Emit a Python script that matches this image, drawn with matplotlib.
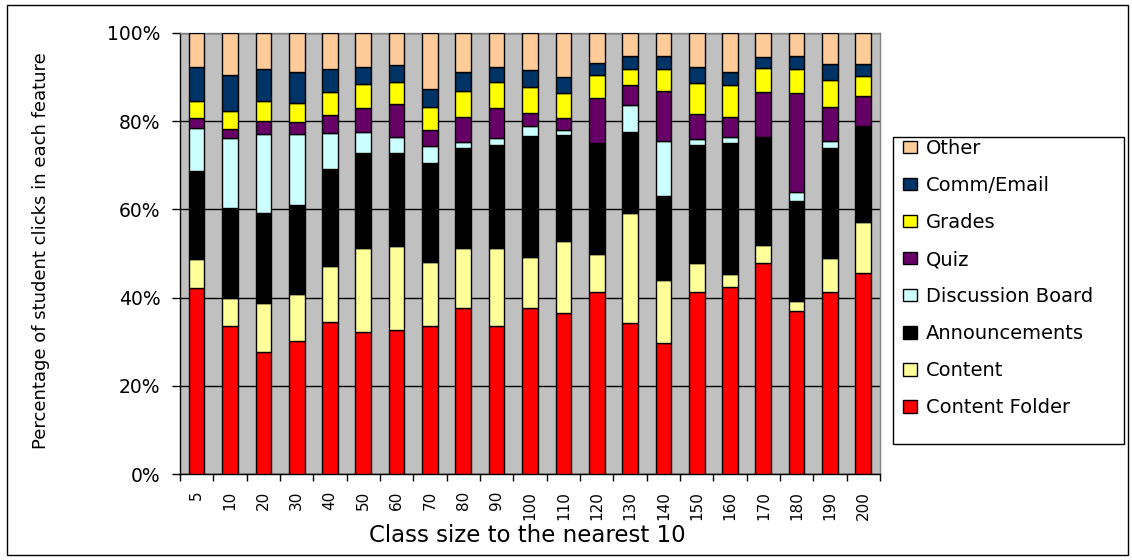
import matplotlib
matplotlib.use("Agg")
import matplotlib.pyplot as plt
import numpy as np
from matplotlib.ticker import PercentFormatter, FixedLocator, NullFormatter
from matplotlib.patches import Rectangle

plt.rcParams['font.family'] = ['DejaVu Sans']

class_sizes = ["5", "10", "20", "30", "40", "50", "60", "70", "80", "90", "100",
               "110", "120", "130", "140", "150", "160", "170", "180", "190", "200"]

content_folder = [42.2, 33.5, 27.7, 30.2, 34.5, 32.3, 32.7, 33.5, 37.6, 33.5, 37.6,
                  36.6, 41.3, 34.2, 29.8, 41.3, 42.5, 47.9, 37.0, 41.3, 45.5]
content = [6.5, 6.4, 11.1, 10.7, 12.7, 18.9, 18.9, 14.6, 13.7, 17.8, 11.7,
           16.2, 8.5, 25.0, 14.3, 6.5, 2.9, 4.0, 2.3, 7.7, 11.6]
announcements = [20.1, 20.5, 20.3, 20.0, 21.9, 21.7, 21.3, 22.5, 22.6, 23.2, 27.3,
                 24.1, 25.0, 18.3, 18.9, 26.7, 29.7, 24.6, 22.6, 24.9, 21.9]
discussion_board = [9.7, 15.7, 17.9, 16.1, 8.3, 4.7, 3.5, 3.7, 1.3, 1.6, 2.2,
                    1.0, 0.2, 6.2, 12.5, 1.4, 1.4, 0.0, 2.0, 1.6, 0.0]
quiz = [2.2, 2.1, 3.0, 2.9, 3.9, 5.5, 7.6, 3.6, 5.8, 7.0, 3.1,
        2.8, 10.2, 4.5, 11.4, 5.7, 4.5, 10.2, 22.4, 7.8, 6.8]
grades = [3.9, 4.0, 4.5, 4.3, 5.4, 5.3, 5.0, 5.4, 5.9, 5.9, 5.9,
          5.6, 5.3, 3.7, 4.9, 7.1, 7.2, 5.3, 5.5, 6.0, 4.4]
comm_email = [7.8, 8.3, 7.3, 7.0, 5.1, 4.0, 3.7, 4.0, 4.3, 3.4, 3.7,
              3.7, 2.8, 2.9, 3.0, 3.7, 3.0, 2.5, 3.0, 3.7, 2.8]
other = [7.6, 9.5, 8.2, 8.8, 8.2, 7.6, 7.3, 12.7, 8.8, 7.6, 8.5,
         10.0, 6.7, 5.2, 5.2, 7.6, 8.8, 5.5, 5.2, 7.0, 7.0]

series_names = ["Content Folder", "Content", "Announcements", "Discussion Board",
                "Quiz", "Grades", "Comm/Email", "Other"]
series_values = [content_folder, content, announcements, discussion_board,
                 quiz, grades, comm_email, other]
series_colors = ["#FF0000", "#FFFF99", "#000000", "#CCFFFF",
                 "#660066", "#FFFF00", "#003366", "#FFCC99"]

W, H = 1132, 560
fig = plt.figure(figsize=(W / 100, H / 100), dpi=100)
fig.patch.set_facecolor("white")

# outer chart border
fig.patches.append(Rectangle((7 / W, 5 / H), (1128 - 7) / W, (555 - 5) / H,
                             transform=fig.transFigure, fill=False,
                             edgecolor="black", linewidth=1.0))

ax = fig.add_axes([180 / W, (H - 474) / H, (880 - 180) / W, (474 - 33) / H])
ax.set_facecolor("#C0C0C0")

x = np.arange(len(class_sizes))
bottom = np.zeros(len(class_sizes))
handles = []
for name, vals, col in zip(series_names, series_values, series_colors):
    vals = np.array(vals, dtype=float)
    b = ax.bar(x, vals, width=0.47, bottom=bottom, color=col, edgecolor="black",
               linewidth=1.0, label=name, zorder=3)
    handles.append(b)
    bottom += vals

ax.set_xlim(-0.5, len(class_sizes) - 0.5)
ax.set_ylim(0, 100)

ax.yaxis.set_major_locator(FixedLocator([0, 20, 40, 60, 80, 100]))
ax.yaxis.set_major_formatter(PercentFormatter(decimals=0))
ax.grid(axis="y", color="black", linewidth=1.0, zorder=1)
ax.tick_params(axis="y", direction="out", length=6, width=1, labelsize=13.5,
               pad=8, colors="black")

ax.set_xticks(x)
ax.set_xticklabels(class_sizes, rotation=90, fontsize=11)
ax.tick_params(axis="x", which="major", length=0, pad=12)
ax.set_xticks(np.arange(-0.5, len(class_sizes), 1.0), minor=True)
ax.xaxis.set_minor_formatter(NullFormatter())
ax.tick_params(axis="x", which="minor", direction="out", length=5, width=1)

for side in ("top", "right"):
    ax.spines[side].set_color("#808080")
    ax.spines[side].set_linewidth(1.0)
for side in ("left", "bottom"):
    ax.spines[side].set_color("black")
    ax.spines[side].set_linewidth(1.0)

fig.text(527 / W, (H - 535) / H, "Class size to the nearest 10",
         ha="center", va="center", fontsize=16.5)
fig.text(41 / W, (H - 251) / H, "Percentage of student clicks in each feature",
         rotation=90, ha="center", va="center", fontsize=13)

# legend box
fig.patches.append(Rectangle((893 / W, (H - 444) / H), (1124 - 893) / W, (444 - 137) / H,
                             transform=fig.transFigure, facecolor="white",
                             edgecolor="black", linewidth=1.0, zorder=0))
leg = fig.legend(handles[::-1], series_names[::-1], loc="upper left",
                 bbox_to_anchor=(897 / W, (H - 133) / H), frameon=False,
                 fontsize=14, handlelength=0.75, handleheight=0.6,
                 handletextpad=0.45, labelspacing=0.93,
                 borderpad=0.3, borderaxespad=0.0)

fig.savefig("out.png", dpi=100)
